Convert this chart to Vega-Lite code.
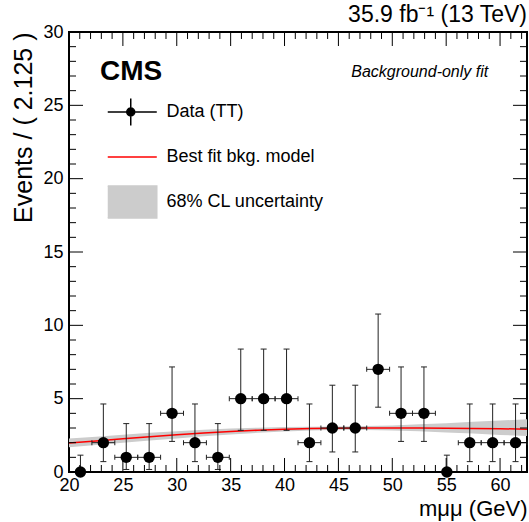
{
  "$schema": "https://vega.github.io/schema/vega-lite/v6.json",
  "width": 458,
  "height": 440,
  "autosize": "none",
  "padding": {"left": 69, "top": 32, "right": 2, "bottom": 50},
  "background": "white",
  "title": {"text": "35.9 fb⁻¹ (13 TeV)", "anchor": "end", "frame": "group", "fontSize": 23, "fontWeight": "normal", "font": "Liberation Sans", "color": "black", "offset": -4},
  "datasets": {
    "obs": [
      {"m": 21.0625, "n": 0, "lo": 0, "hi": 1.148, "xlo": 20.0, "xhi": 22.125},
      {"m": 23.1875, "n": 2, "lo": 0.708, "hi": 4.638, "xlo": 22.125, "xhi": 24.25},
      {"m": 25.3125, "n": 1, "lo": 0.173, "hi": 3.3, "xlo": 24.25, "xhi": 26.375},
      {"m": 27.4375, "n": 1, "lo": 0.173, "hi": 3.3, "xlo": 26.375, "xhi": 28.5},
      {"m": 29.5625, "n": 4, "lo": 2.086, "hi": 7.163, "xlo": 28.5, "xhi": 30.625},
      {"m": 31.6875, "n": 2, "lo": 0.708, "hi": 4.638, "xlo": 30.625, "xhi": 32.75},
      {"m": 33.8125, "n": 1, "lo": 0.173, "hi": 3.3, "xlo": 32.75, "xhi": 34.875},
      {"m": 35.9375, "n": 5, "lo": 2.84, "hi": 8.382, "xlo": 34.875, "xhi": 37.0},
      {"m": 38.0625, "n": 5, "lo": 2.84, "hi": 8.382, "xlo": 37.0, "xhi": 39.125},
      {"m": 40.1875, "n": 5, "lo": 2.84, "hi": 8.382, "xlo": 39.125, "xhi": 41.25},
      {"m": 42.3125, "n": 2, "lo": 0.708, "hi": 4.638, "xlo": 41.25, "xhi": 43.375},
      {"m": 44.4375, "n": 3, "lo": 1.367, "hi": 5.918, "xlo": 43.375, "xhi": 45.5},
      {"m": 46.5625, "n": 3, "lo": 1.367, "hi": 5.918, "xlo": 45.5, "xhi": 47.625},
      {"m": 48.6875, "n": 7, "lo": 4.419, "hi": 10.77, "xlo": 47.625, "xhi": 49.75},
      {"m": 50.8125, "n": 4, "lo": 2.086, "hi": 7.163, "xlo": 49.75, "xhi": 51.875},
      {"m": 52.9375, "n": 4, "lo": 2.086, "hi": 7.163, "xlo": 51.875, "xhi": 54.0},
      {"m": 55.0625, "n": 0, "lo": 0, "hi": 1.148, "xlo": 54.0, "xhi": 56.125},
      {"m": 57.1875, "n": 2, "lo": 0.708, "hi": 4.638, "xlo": 56.125, "xhi": 58.25},
      {"m": 59.3125, "n": 2, "lo": 0.708, "hi": 4.638, "xlo": 58.25, "xhi": 60.375},
      {"m": 61.4375, "n": 2, "lo": 0.708, "hi": 4.638, "xlo": 60.375, "xhi": 62.5}
    ],
    "fit": [
      {"m": 20, "f": 1.97, "flo": 1.68, "fhi": 2.28},
      {"m": 22.5, "f": 2.12, "flo": 1.84, "fhi": 2.41},
      {"m": 25, "f": 2.27, "flo": 2.0, "fhi": 2.54},
      {"m": 27.5, "f": 2.41, "flo": 2.15, "fhi": 2.67},
      {"m": 30, "f": 2.54, "flo": 2.29, "fhi": 2.78},
      {"m": 32.5, "f": 2.66, "flo": 2.43, "fhi": 2.88},
      {"m": 35, "f": 2.76, "flo": 2.56, "fhi": 2.96},
      {"m": 37.5, "f": 2.85, "flo": 2.67, "fhi": 3.02},
      {"m": 40, "f": 2.92, "flo": 2.76, "fhi": 3.07},
      {"m": 42.5, "f": 2.96, "flo": 2.83, "fhi": 3.09},
      {"m": 45, "f": 2.99, "flo": 2.88, "fhi": 3.1},
      {"m": 47.5, "f": 3.0, "flo": 2.87, "fhi": 3.13},
      {"m": 50, "f": 3.0, "flo": 2.83, "fhi": 3.17},
      {"m": 52.5, "f": 3.0, "flo": 2.77, "fhi": 3.25},
      {"m": 55, "f": 2.99, "flo": 2.7, "fhi": 3.33},
      {"m": 57.5, "f": 2.97, "flo": 2.62, "fhi": 3.42},
      {"m": 60, "f": 2.95, "flo": 2.53, "fhi": 3.51},
      {"m": 62.5, "f": 2.92, "flo": 2.45, "fhi": 3.6}
    ],
    "xmaj": [{"t": 20}, {"t": 25}, {"t": 30}, {"t": 35}, {"t": 40}, {"t": 45}, {"t": 50}, {"t": 55}, {"t": 60}],
    "xmin": [{"t": 21}, {"t": 22}, {"t": 23}, {"t": 24}, {"t": 26}, {"t": 27}, {"t": 28}, {"t": 29}, {"t": 31}, {"t": 32}, {"t": 33}, {"t": 34}, {"t": 36}, {"t": 37}, {"t": 38}, {"t": 39}, {"t": 41}, {"t": 42}, {"t": 43}, {"t": 44}, {"t": 46}, {"t": 47}, {"t": 48}, {"t": 49}, {"t": 51}, {"t": 52}, {"t": 53}, {"t": 54}, {"t": 56}, {"t": 57}, {"t": 58}, {"t": 59}, {"t": 61}, {"t": 62}],
    "ymaj": [{"t": 5}, {"t": 10}, {"t": 15}, {"t": 20}, {"t": 25}],
    "ymin": [{"t": 1}, {"t": 2}, {"t": 3}, {"t": 4}, {"t": 6}, {"t": 7}, {"t": 8}, {"t": 9}, {"t": 11}, {"t": 12}, {"t": 13}, {"t": 14}, {"t": 16}, {"t": 17}, {"t": 18}, {"t": 19}, {"t": 21}, {"t": 22}, {"t": 23}, {"t": 24}, {"t": 26}, {"t": 27}, {"t": 28}, {"t": 29}]
  },
  "layer": [
    {
      "data": {"name": "fit"},
      "mark": {"type": "area", "opacity": 1},
      "encoding": {
        "x": {"field": "m", "type": "quantitative", "scale": {"domain": [20, 62.5], "nice": false, "zero": false},
              "axis": {"orient": "bottom", "values": [20, 25, 30, 35, 40, 45, 50, 55, 60], "ticks": false, "labelPadding": 4, "labelFlush": false, "labelOverlap": false, "title": "mμμ (GeV)", "titleAnchor": "end", "titlePadding": 4}},
        "y": {"field": "flo", "type": "quantitative", "scale": {"domain": [0, 30], "nice": false, "zero": false},
              "axis": {"orient": "left", "values": [0, 5, 10, 15, 20, 25, 30], "ticks": false, "labelPadding": 6, "labelFlush": false, "labelOverlap": false, "title": "Events / ( 2.125 )", "titleAnchor": "end", "titlePadding": 6, "titleFontSize": 25}},
        "y2": {"field": "fhi"},
        "color": {"datum": "68% CL uncertainty", "type": "nominal",
                  "scale": {"domain": ["Data (TT)", "Best fit bkg. model", "68% CL uncertainty"], "range": ["black", "red", "#cccccc"]},
                  "legend": {
                    "orient": "none", "legendX": 38.75, "legendY": 57.75, "title": null, "direction": "vertical",
                    "labelFontSize": 18, "labelFont": "Liberation Sans", "labelColor": "black", "labelOffset": 12.75,
                    "symbolSize": 1980, "rowPadding": 0, "padding": 0, "symbolOpacity": 1, "clipHeight": 44.5,
                    "encode": {
                      "symbols": {
                        "update": {
                          "shape": {"signal": "datum.value === 'Data (TT)' ? 'M-1.17,0H1.17M0,-0.61V0.61M-0.18,0A0.18,0.18 0 1,0 0.18,0A0.18,0.18 0 1,0 -0.18,0' : datum.value === 'Best fit bkg. model' ? 'M-1.17,0H1.17' : 'M-1.17,-0.72H1.17V0.72H-1.17Z'"},
                          "fill": {"signal": "datum.value === 'Data (TT)' ? 'black' : datum.value === 'Best fit bkg. model' ? 'transparent' : '#cccccc'"},
                          "stroke": {"signal": "datum.value === 'Data (TT)' ? '#444444' : datum.value === 'Best fit bkg. model' ? 'red' : 'transparent'"},
                          "strokeWidth": {"value": 1.5},
                          "opacity": {"value": 1},
                          "fillOpacity": {"value": 1},
                          "strokeOpacity": {"value": 1},
                          "size": {"value": 1980}
                        }
                      }
                    }
                  }}
      }
    },
    {
      "data": {"name": "fit"},
      "mark": {"type": "line", "strokeWidth": 1.5},
      "encoding": {
        "x": {"field": "m", "type": "quantitative"},
        "y": {"field": "f", "type": "quantitative"},
        "color": {"datum": "Best fit bkg. model", "type": "nominal"}
      }
    },
    {
      "data": {"name": "obs"},
      "mark": {"type": "rule", "color": "#222222", "strokeWidth": 1},
      "encoding": {
        "x": {"field": "m", "type": "quantitative"},
        "y": {"field": "lo", "type": "quantitative"},
        "y2": {"field": "hi"}
      }
    },
    {
      "data": {"name": "obs"},
      "transform": [{"filter": "datum.n > 0"}],
      "mark": {"type": "rule", "color": "#222222", "strokeWidth": 1},
      "encoding": {
        "x": {"field": "xlo", "type": "quantitative"},
        "x2": {"field": "xhi"},
        "y": {"field": "n", "type": "quantitative"}
      }
    },
    {
      "data": {"name": "obs"},
      "transform": [{"fold": ["lo", "hi"], "as": ["k", "v"]}, {"filter": "datum.v > 0"}],
      "mark": {"type": "tick", "orient": "horizontal", "size": 6, "thickness": 1, "color": "#222222", "opacity": 1},
      "encoding": {
        "x": {"field": "m", "type": "quantitative"},
        "y": {"field": "v", "type": "quantitative"}
      }
    },
    {
      "data": {"name": "obs"},
      "transform": [{"filter": "datum.n > 0"}, {"fold": ["xlo", "xhi"], "as": ["k", "v"]}],
      "mark": {"type": "tick", "orient": "vertical", "size": 5, "thickness": 1, "color": "#222222", "opacity": 1},
      "encoding": {
        "x": {"field": "v", "type": "quantitative"},
        "y": {"field": "n", "type": "quantitative"}
      }
    },
    {
      "data": {"name": "obs"},
      "mark": {"type": "circle", "size": 130, "opacity": 1},
      "encoding": {
        "x": {"field": "m", "type": "quantitative"},
        "y": {"field": "n", "type": "quantitative"},
        "color": {"datum": "Data (TT)", "type": "nominal"}
      }
    },
    {
      "data": {"name": "xmaj"},
      "mark": {"type": "rule", "color": "black", "strokeWidth": 1},
      "encoding": {"x": {"field": "t", "type": "quantitative"}, "y": {"datum": 0, "type": "quantitative"}, "y2": {"datum": 0.955}}
    },
    {
      "data": {"name": "xmin"},
      "mark": {"type": "rule", "color": "black", "strokeWidth": 1},
      "encoding": {"x": {"field": "t", "type": "quantitative"}, "y": {"datum": 0, "type": "quantitative"}, "y2": {"datum": 0.477}}
    },
    {
      "data": {"name": "xmaj"},
      "mark": {"type": "rule", "color": "black", "strokeWidth": 1},
      "encoding": {"x": {"field": "t", "type": "quantitative"}, "y": {"datum": 30, "type": "quantitative"}, "y2": {"datum": 29.045}}
    },
    {
      "data": {"name": "xmin"},
      "mark": {"type": "rule", "color": "black", "strokeWidth": 1},
      "encoding": {"x": {"field": "t", "type": "quantitative"}, "y": {"datum": 30, "type": "quantitative"}, "y2": {"datum": 29.523}}
    },
    {
      "data": {"name": "ymaj"},
      "mark": {"type": "rule", "color": "black", "strokeWidth": 1},
      "encoding": {"y": {"field": "t", "type": "quantitative"}, "x": {"datum": 20, "type": "quantitative"}, "x2": {"datum": 21.3}}
    },
    {
      "data": {"name": "ymin"},
      "mark": {"type": "rule", "color": "black", "strokeWidth": 1},
      "encoding": {"y": {"field": "t", "type": "quantitative"}, "x": {"datum": 20, "type": "quantitative"}, "x2": {"datum": 20.65}}
    },
    {
      "data": {"name": "ymaj"},
      "mark": {"type": "rule", "color": "black", "strokeWidth": 1},
      "encoding": {"y": {"field": "t", "type": "quantitative"}, "x": {"datum": 62.5, "type": "quantitative"}, "x2": {"datum": 61.2}}
    },
    {
      "data": {"name": "ymin"},
      "mark": {"type": "rule", "color": "black", "strokeWidth": 1},
      "encoding": {"y": {"field": "t", "type": "quantitative"}, "x": {"datum": 62.5, "type": "quantitative"}, "x2": {"datum": 61.85}}
    },
    {
      "data": {"values": [{}]},
      "mark": {"type": "text", "text": "CMS", "font": "Liberation Sans", "fontSize": 28, "fontWeight": "bold", "align": "left", "baseline": "alphabetic", "color": "black"},
      "encoding": {
        "x": {"datum": 22.88, "type": "quantitative"},
        "y": {"datum": 26.73, "type": "quantitative"}
      }
    },
    {
      "data": {"values": [{}]},
      "mark": {"type": "text", "text": "Background-only fit", "font": "Liberation Sans", "fontSize": 16, "fontStyle": "italic", "align": "right", "baseline": "alphabetic", "color": "black"},
      "encoding": {
        "x": {"datum": 58.9, "type": "quantitative"},
        "y": {"datum": 26.9, "type": "quantitative"}
      }
    }
  ],
  "config": {
    "font": "Liberation Sans",
    "view": {"stroke": "black", "strokeWidth": 2},
    "axis": {"grid": false, "domain": false, "labelColor": "black", "titleColor": "black", "labelFont": "Liberation Sans", "titleFont": "Liberation Sans", "labelFontSize": 18, "titleFontSize": 22, "titleFontWeight": "normal"}
  }
}
